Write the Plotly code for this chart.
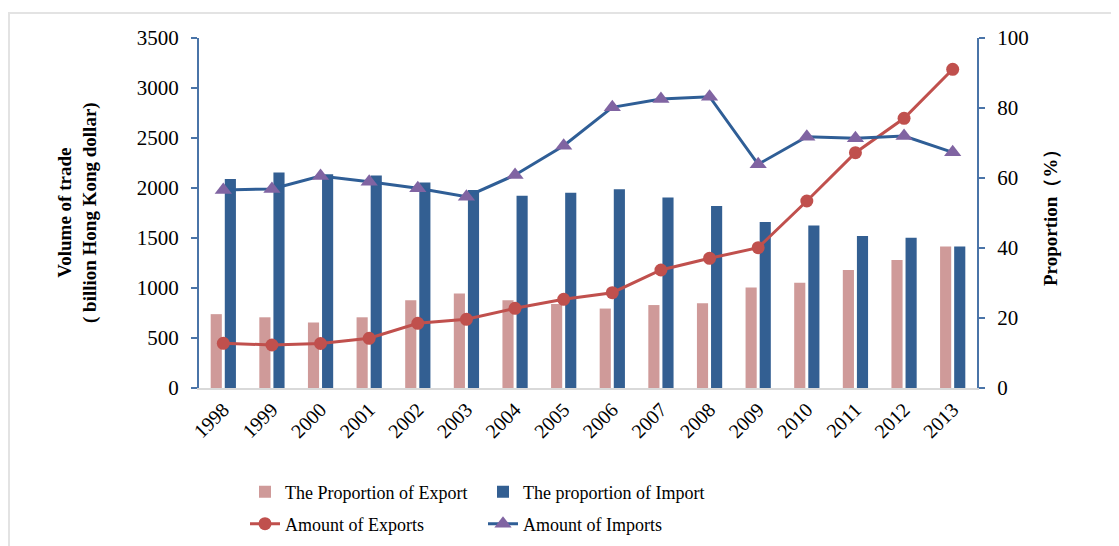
import plotly.graph_objects as go

years = [str(y) for y in range(1998, 2014)]
export_amount = [447, 430, 445, 497, 647, 687, 797, 887, 953, 1180, 1297, 1403, 1870, 2353, 2697, 3187]
import_amount = [1980, 1990, 2120, 2063, 1997, 1913, 2130, 2423, 2807, 2890, 2913, 2237, 2513, 2497, 2520, 2357]
export_prop = [21.1, 20.2, 18.7, 20.2, 25.1, 27.0, 25.1, 24.0, 22.7, 23.7, 24.2, 28.7, 30.1, 33.7, 36.6, 40.4]
import_prop = [59.7, 61.6, 61.1, 60.7, 58.7, 56.6, 54.9, 55.8, 56.8, 54.4, 52.0, 47.4, 46.4, 43.4, 42.9, 40.4]

FONT = "Liberation Serif, Times New Roman, serif"
AX = "#4A74A8"
PINK = "#CF9A99"
BLUE = "#335F92"
RED = "#C0504D"
LBLUE = "#2F5E96"
PURPLE = "#8064A2"

fig = go.Figure()
fig.add_trace(go.Bar(x=years, y=export_prop, name="The Proportion of Export",
                     marker=dict(color=PINK, line=dict(width=0)), yaxis="y", legend="legend"))
fig.add_trace(go.Bar(x=years, y=import_prop, name="The proportion of Import",
                     marker=dict(color=BLUE, line=dict(width=0)), yaxis="y", legend="legend"))
fig.add_trace(go.Scatter(x=years, y=export_amount, name="Amount of Exports", mode="lines+markers",
                         line=dict(color=RED, width=3), marker=dict(symbol="circle", size=13, color=RED),
                         yaxis="y2", legend="legend2"))
fig.add_trace(go.Scatter(x=years, y=import_amount, name="Amount of Imports", mode="lines+markers",
                         line=dict(color=LBLUE, width=3), marker=dict(symbol="triangle-up", size=15, color=PURPLE),
                         yaxis="y2", legend="legend2"))

# plot area in window pixel coordinates (page body has an 8px margin)
W0, W1, TOP, BOT = 199, 977, 38, 388
OFF = 8
def px_x(p):
    return (p - W0) / (W1 - W0)
def px_y(p):
    return (BOT - p) / (BOT - TOP)

border = dict(color="#E3E3E3", width=2)
shapes = [
    dict(type="line", xref="paper", yref="paper", x0=px_x(7), x1=px_x(1130), y0=px_y(13), y1=px_y(13), line=border),
    dict(type="line", xref="paper", yref="paper", x0=px_x(9), x1=px_x(9), y0=px_y(13), y1=px_y(546), line=border),
]

fig.update_layout(
    width=1119, height=546,
    margin=dict(l=W0 - OFF, r=1119 - (W1 - OFF), t=TOP - OFF, b=546 - (BOT - OFF), autoexpand=False),
    paper_bgcolor="white", plot_bgcolor="white",
    font=dict(family=FONT, color="black", size=18),
    barmode="group", bargap=0.42, bargroupgap=0.21,
    showlegend=True,
    xaxis=dict(type="category", range=[-0.5, len(years) - 0.5], showline=True, linecolor="#D9D9D9", linewidth=2,
               ticks="", tickangle=-45, tickfont=dict(size=20, family=FONT), showgrid=False, automargin=False),
    yaxis=dict(side="right", range=[0, 100], dtick=20, showline=True, linecolor=AX, linewidth=2,
               ticks="outside", ticklen=6, tickcolor=AX, tickwidth=2, showgrid=False, zeroline=False,
               tickfont=dict(size=21, family=FONT), ticklabelstandoff=8, automargin=False),
    yaxis2=dict(side="left", overlaying="y", range=[0, 3500], dtick=500, showline=True, linecolor=AX, linewidth=2,
                ticks="outside", ticklen=6, tickcolor=AX, tickwidth=2, showgrid=False, zeroline=False,
                tickfont=dict(size=21, family=FONT), ticklabelstandoff=8, automargin=False),
    legend=dict(orientation="h", x=px_x(245), y=px_y(492), xanchor="left", yanchor="middle",
                font=dict(size=18, family=FONT), entrywidth=193, entrywidthmode="pixels",
                bgcolor="rgba(0,0,0,0)", tracegroupgap=0),
    legend2=dict(orientation="h", x=px_x(245), y=px_y(524), xanchor="left", yanchor="middle",
                 font=dict(size=18, family=FONT), entrywidth=193, entrywidthmode="pixels",
                 bgcolor="rgba(0,0,0,0)", tracegroupgap=0),
    shapes=shapes,
    annotations=[
        dict(text="<b>Volume of trade</b><br><b>( billion Hong Kong dollar)</b>", xref="paper", yref="paper",
             x=px_x(77), y=0.5, xanchor="center", yanchor="middle", textangle=-90, showarrow=False,
             font=dict(size=19, family=FONT)),
        dict(text="<b>Proportion（%）</b>", xref="paper", yref="paper",
             x=px_x(1050), y=0.5, xanchor="center", yanchor="middle", textangle=-90, showarrow=False,
             font=dict(size=19, family=FONT)),
    ],
)

fig.write_html("out.html")
